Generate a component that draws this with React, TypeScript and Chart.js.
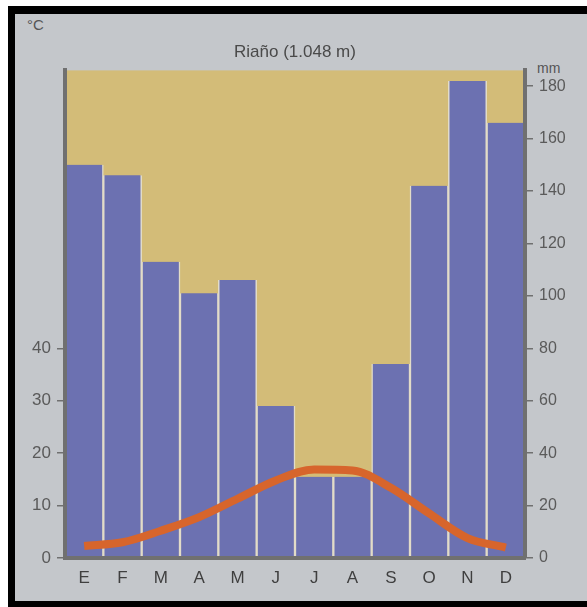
import React, { useEffect, useRef } from "react";
import { Chart, registerables } from "chart.js";

Chart.register(...registerables);

const months = ["E", "F", "M", "A", "M", "J", "J", "A", "S", "O", "N", "D"];
const precipitation = [150, 146, 113, 101, 106, 58, 31, 31, 74, 142, 182, 166];
const temperature = [2.3, 3.0, 5.2, 7.8, 11.3, 14.8, 16.9, 16.7, 13.4, 8.5, 3.8, 2.0];
const tempTicks = [0, 10, 20, 30, 40];
const precipTicks = [0, 20, 40, 60, 80, 100, 120, 140, 160, 180];
const titleText = "Riaño (1.048 m)";

const FONT = "'Liberation Sans', Arial, sans-serif";

const plotBg = {
  id: "plotBg",
  beforeDraw(chart: any) {
    const { ctx, chartArea } = chart;
    if (!chartArea) return;
    ctx.save();
    ctx.fillStyle = "#d3bc78";
    ctx.fillRect(chartArea.left, chartArea.top, chartArea.right - chartArea.left, chartArea.bottom - chartArea.top);
    ctx.restore();
  },
};

export default function App() {
  const ref = useRef<HTMLCanvasElement | null>(null);

  useEffect(() => {
    if (!ref.current) return;
    const chart = new Chart(ref.current, {
      type: "bar",
      data: {
        labels: months,
        datasets: [
          {
            type: "line",
            label: "Temperatura",
            data: temperature,
            yAxisID: "yT",
            borderColor: "#d7652c",
            borderWidth: 8,
            pointRadius: 0,
            tension: 0.45,
            cubicInterpolationMode: "monotone",
            order: 0,
          } as any,
          {
            type: "bar",
            label: "Precipitación",
            data: precipitation,
            yAxisID: "yP",
            backgroundColor: "#6c71b1",
            borderColor: "#e2dcc8",
            borderWidth: { left: 1.5, right: 1.5, top: 0, bottom: 0 },
            borderSkipped: false,
            barPercentage: 1,
            categoryPercentage: 1,
            order: 1,
          } as any,
        ],
      },
      options: {
        animation: false,
        responsive: false,
        maintainAspectRatio: false,
        layout: { padding: { left: 15, right: 12, top: 0, bottom: 19 } },
        plugins: {
          legend: { display: false },
          tooltip: { enabled: false },
          title: {
            display: true,
            text: titleText,
            color: "#4a4a4a",
            font: { family: FONT, size: 17, weight: "normal" },
            padding: { top: 42, bottom: 8 },
          },
        },
        scales: {
          x: {
            grid: { display: false, drawTicks: false },
            border: { display: true, color: "#707070", width: 4, z: 1 },
            ticks: { color: "#3f3f3f", font: { family: FONT, size: 17 }, padding: 10 },
            afterFit(scale: any) {
              scale.height = 30;
            },
          },
          yT: {
            position: "left",
            min: 0,
            max: 93,
            grid: { drawOnChartArea: false, drawTicks: true, tickLength: 8, color: "#707070", lineWidth: 1.5 },
            border: { display: true, color: "#707070", width: 4, z: 1 },
            ticks: { color: "#5a5a5a", font: { family: FONT, size: 17 }, padding: 6 },
            afterBuildTicks(scale: any) {
              scale.ticks = tempTicks.map((v) => ({ value: v }));
            },
            afterFit(scale: any) {
              scale.width = 50;
            },
          },
          yP: {
            position: "right",
            min: 0,
            max: 186,
            grid: { drawOnChartArea: false, drawTicks: true, tickLength: 8, color: "#707070", lineWidth: 1.5 },
            border: { display: true, color: "#707070", width: 4, z: 1 },
            ticks: { color: "#5a5a5a", font: { family: FONT, size: 16 }, padding: 6 },
            afterBuildTicks(scale: any) {
              scale.ticks = precipTicks.map((v) => ({ value: v }));
            },
            afterFit(scale: any) {
              scale.width = 50;
            },
          },
        },
      },
      plugins: [plotBg],
    });
    return () => chart.destroy();
  }, []);

  return (
    <div style={{ position: "absolute", left: 0, top: 0, width: 587, height: 607, background: "#ffffff", overflow: "hidden" }}>
      <div style={{ position: "absolute", left: 8, top: 6, right: 0, bottom: 0, background: "#000000" }} />
      <div style={{ position: "absolute", left: 15, top: 14, width: 572, height: 587, background: "#c4c7cb" }} />
      <span style={{ position: "absolute", left: 27, top: 16, fontFamily: FONT, fontSize: 15, color: "#555" }}>°C</span>
      <span style={{ position: "absolute", left: 537, top: 60, fontFamily: FONT, fontSize: 14, color: "#555" }}>mm</span>
      <canvas ref={ref} width={587} height={607} style={{ position: "absolute", left: 0, top: 0, width: 587, height: 607 }} />
    </div>
  );
}
